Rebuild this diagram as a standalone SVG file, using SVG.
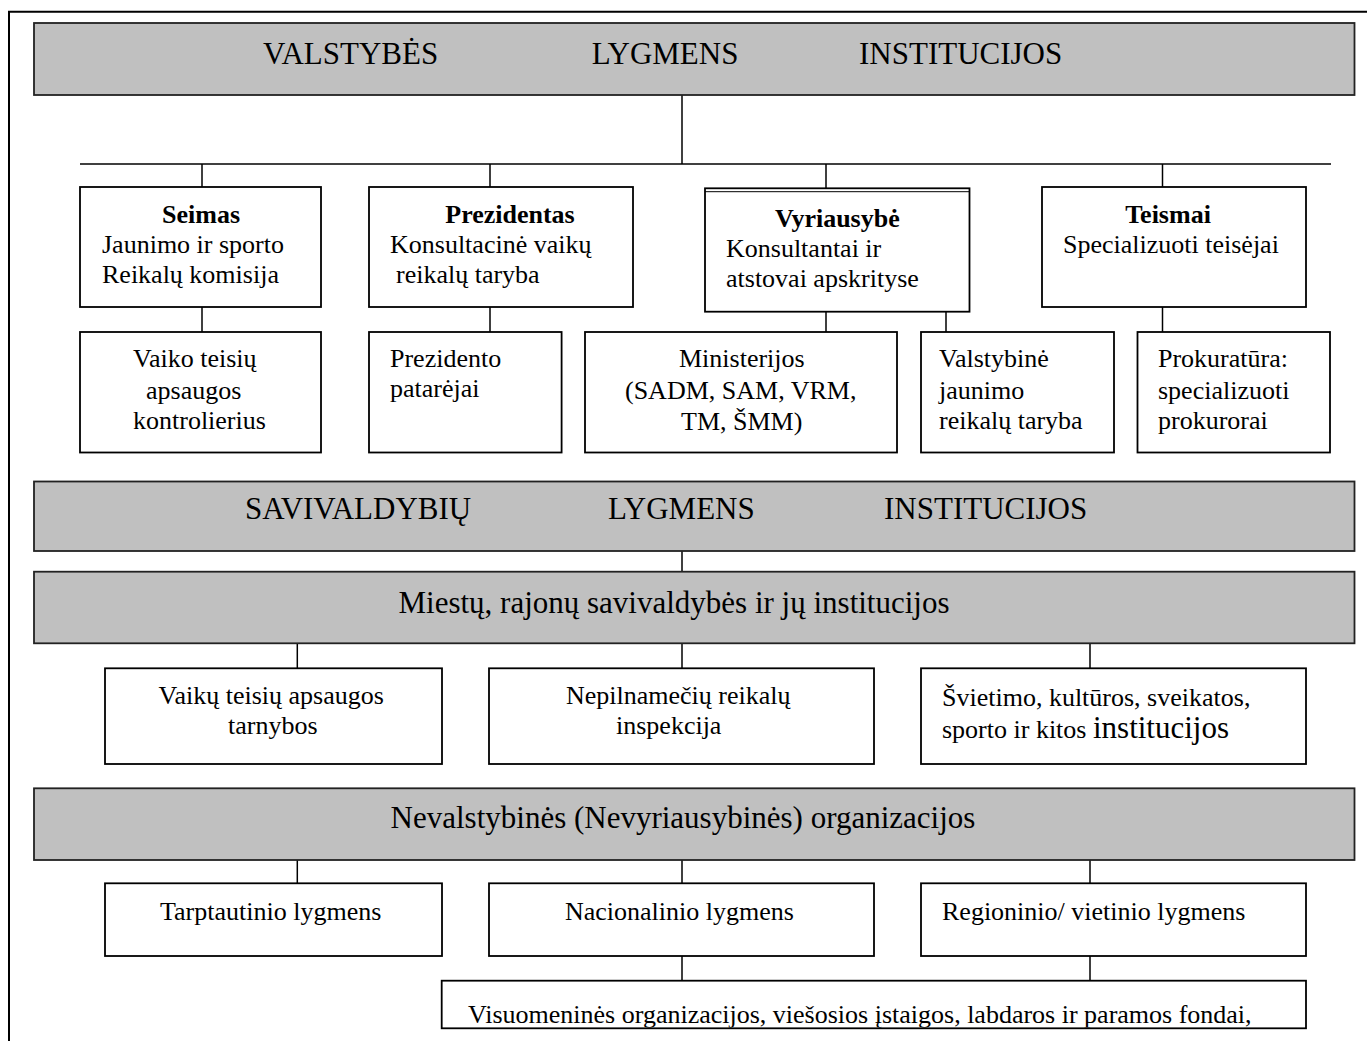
<svg xmlns="http://www.w3.org/2000/svg" width="1367" height="1041" viewBox="0 0 1367 1041">
<style>
.bg{fill:#ffffff}
.box{fill:#ffffff;stroke:#000;stroke-width:1.8}
.gray{fill:#c0c0c0;stroke:#222;stroke-width:1.8}
.ln{stroke:#000;stroke-width:1.5;fill:none}
text{font-family:"Liberation Serif","Times New Roman",serif;fill:#000}
.t{font-size:26px}
.b{font-size:26px;font-weight:bold}
.h{font-size:31px}
.m{text-anchor:middle}
</style>
<defs>
<clipPath id="clipBottom"><rect x="442" y="981" width="864" height="46.5"/></clipPath>
</defs>
<rect class="bg" x="0" y="0" width="1367" height="1041"/>
<polyline class="ln" style="stroke-width:2" points="9,1041 9,11.7 1367,11.7"/>

<g id="connectors">
<line class="ln" x1="682" y1="95" x2="682" y2="164"/>
<line class="ln" x1="80" y1="164" x2="1331" y2="164"/>
<line class="ln" x1="202" y1="164" x2="202" y2="187"/>
<line class="ln" x1="490" y1="164" x2="490" y2="187"/>
<line class="ln" x1="826" y1="164" x2="826" y2="188"/>
<line class="ln" x1="1162.5" y1="164" x2="1162.5" y2="187"/>
<line class="ln" x1="202" y1="307" x2="202" y2="332"/>
<line class="ln" x1="490" y1="307" x2="490" y2="332"/>
<line class="ln" x1="826" y1="311.7" x2="826" y2="332"/>
<line class="ln" x1="946" y1="311.7" x2="946" y2="332"/>
<line class="ln" x1="1162.5" y1="307" x2="1162.5" y2="332"/>
<line class="ln" x1="682" y1="551" x2="682" y2="571.7"/>
<line class="ln" x1="297.3" y1="643.3" x2="297.3" y2="668.3"/>
<line class="ln" x1="682" y1="643.3" x2="682" y2="668.3"/>
<line class="ln" x1="1090" y1="643.3" x2="1090" y2="668.3"/>
<line class="ln" x1="297.3" y1="860" x2="297.3" y2="883.3"/>
<line class="ln" x1="682" y1="860" x2="682" y2="883.3"/>
<line class="ln" x1="1090" y1="860" x2="1090" y2="883.3"/>
<line class="ln" x1="682" y1="956" x2="682" y2="980.7"/>
<line class="ln" x1="1090" y1="956" x2="1090" y2="980.7"/>
</g>

<g id="valstybes">
<rect class="gray" x="34" y="23" width="1320.5" height="72"/>
<text class="h" x="263" y="64">VALSTYBĖS</text>
<text class="h" x="591.7" y="64">LYGMENS</text>
<text class="h" x="859" y="64">INSTITUCIJOS</text>
</g>

<g id="seimas">
<rect class="box" x="80" y="187" width="241" height="120"/>
<text class="b m" x="201" y="223">Seimas</text>
<text class="t" x="102" y="253">Jaunimo ir sporto</text>
<text class="t" x="102" y="283">Reikalų komisija</text>
</g>

<g id="prezidentas">
<rect class="box" x="369" y="187" width="264" height="120"/>
<text class="b m" x="510" y="223">Prezidentas</text>
<text class="t" x="390" y="253">Konsultacinė vaikų</text>
<text class="t" x="396" y="283">reikalų taryba</text>
</g>

<g id="vyriausybe">
<rect class="box" x="705" y="188.3" width="264.5" height="123.4"/>
<line class="ln" x1="705" y1="191.7" x2="969.5" y2="191.7" style="stroke-width:1"/>
<text class="b" x="775" y="227">Vyriausybė</text>
<text class="t" x="726" y="257">Konsultantai ir</text>
<text class="t" x="726" y="287">atstovai apskrityse</text>
</g>

<g id="teismai">
<rect class="box" x="1042" y="187" width="264" height="120"/>
<text class="b m" x="1168" y="223">Teismai</text>
<text class="t" x="1063" y="253">Specializuoti teisėjai</text>
</g>

<g id="kontrolierius">
<rect class="box" x="80" y="332" width="241" height="120.5"/>
<text class="t" x="133" y="367">Vaiko teisių</text>
<text class="t" x="146" y="398.5">apsaugos</text>
<text class="t" x="133" y="429">kontrolierius</text>
</g>

<g id="patarejai">
<rect class="box" x="369" y="332" width="192.6" height="120.5"/>
<text class="t" x="390" y="367">Prezidento</text>
<text class="t" x="390" y="397">patarėjai</text>
</g>

<g id="ministerijos">
<rect class="box" x="585" y="332" width="312" height="120.5"/>
<text class="t" x="679" y="367">Ministerijos</text>
<text class="t" x="625" y="399">(SADM, SAM, VRM,</text>
<text class="t" x="681" y="430">TM, ŠMM)</text>
</g>

<g id="jaunimo-taryba">
<rect class="box" x="921" y="332" width="193" height="120.5"/>
<text class="t" x="939" y="367">Valstybinė</text>
<text class="t" x="939" y="398.5">jaunimo</text>
<text class="t" x="939" y="429">reikalų taryba</text>
</g>

<g id="prokuratura">
<rect class="box" x="1137.5" y="332" width="192.5" height="120.5"/>
<text class="t" x="1158" y="367">Prokuratūra:</text>
<text class="t" x="1158" y="398.5">specializuoti</text>
<text class="t" x="1158" y="429">prokurorai</text>
</g>

<g id="savivaldybiu">
<rect class="gray" x="34" y="481.5" width="1320.5" height="69.5"/>
<text class="h" x="245" y="519">SAVIVALDYBIŲ</text>
<text class="h" x="608" y="519">LYGMENS</text>
<text class="h" x="884" y="519">INSTITUCIJOS</text>
</g>

<g id="miestu">
<rect class="gray" x="34" y="571.7" width="1320.5" height="71.6"/>
<text class="h m" x="674" y="613">Miestų, rajonų savivaldybės ir jų institucijos</text>
</g>

<g id="vaiku-tarnybos">
<rect class="box" x="105" y="668.3" width="337" height="95.7"/>
<text class="t" x="158.5" y="704">Vaikų teisių apsaugos</text>
<text class="t" x="228" y="734">tarnybos</text>
</g>

<g id="inspekcija">
<rect class="box" x="489" y="668.3" width="385" height="95.7"/>
<text class="t" x="566" y="704">Nepilnamečių reikalų</text>
<text class="t" x="616" y="734">inspekcija</text>
</g>

<g id="svietimo">
<rect class="box" x="921" y="668.3" width="385" height="95.7"/>
<text class="t" x="942" y="706">Švietimo, kultūros, sveikatos,</text>
<text class="t" x="942" y="738">sporto ir kitos <tspan style="font-size:31px">institucijos</tspan></text>
</g>

<g id="nevalstybines">
<rect class="gray" x="34" y="788.3" width="1320.5" height="71.7"/>
<text class="h m" x="683" y="828">Nevalstybinės (Nevyriausybinės) organizacijos</text>
</g>

<g id="tarptautinio">
<rect class="box" x="105" y="883.3" width="337" height="72.7"/>
<text class="t" x="160" y="920">Tarptautinio lygmens</text>
</g>

<g id="nacionalinio">
<rect class="box" x="489" y="883.3" width="385" height="72.7"/>
<text class="t" x="565" y="920">Nacionalinio lygmens</text>
</g>

<g id="regioninio">
<rect class="box" x="921" y="883.3" width="385" height="72.7"/>
<text class="t" x="942" y="920">Regioninio/ vietinio lygmens</text>
</g>

<g id="visuomenines">
<rect class="box" x="441.7" y="980.7" width="864.3" height="47.6"/>
<text class="t" x="468" y="1023.3" clip-path="url(#clipBottom)">Visuomeninės organizacijos, viešosios įstaigos, labdaros ir paramos fondai,</text>
</g>
</svg>
